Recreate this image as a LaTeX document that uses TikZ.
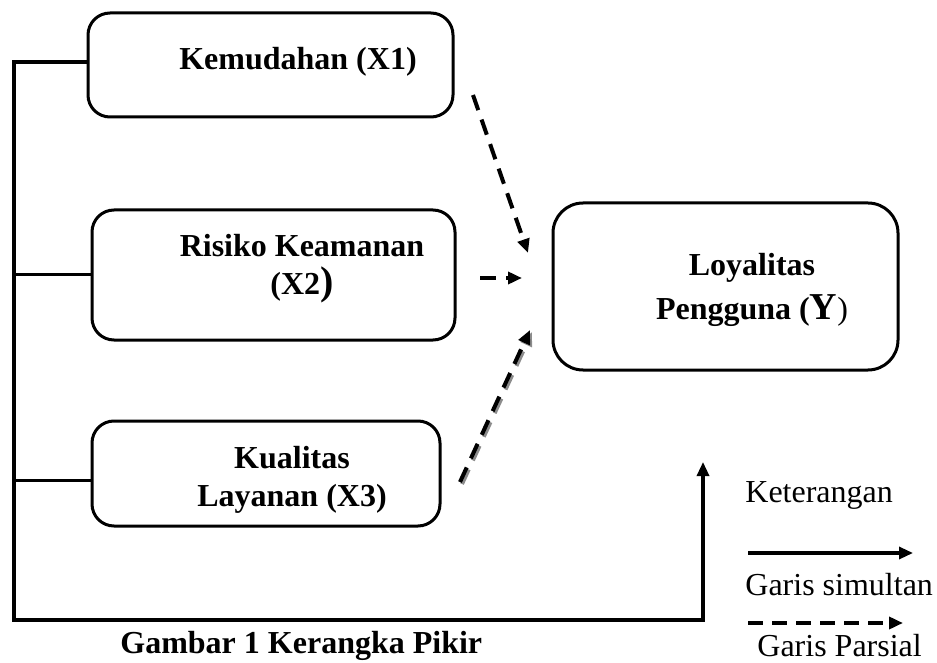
\documentclass[tikz,border=0pt]{standalone}
\usepackage{fontspec}
\setmainfont{Liberation Serif}
\usetikzlibrary{arrows.meta}
\definecolor{KPshade}{HTML}{8C8C8C}
\tikzset{kpbox/.style={draw,line width=1.5pt,rounded corners=11pt,inner sep=0pt},
 kptext/.style={font=\fontsize{16}{19}\selectfont\bfseries,align=center,inner sep=0pt},
 kpnote/.style={font=\fontsize{16}{19}\selectfont,inner sep=0pt,anchor=west},
 kpline/.style={line width=1.5pt},
 kparr/.style={-{Triangle[length=7pt,width=6pt]},line width=1.6pt},
 kpdash/.style={-{Triangle[length=7pt,width=6pt]},line width=2pt,dash pattern=on 8pt off 5pt}}
\begin{document}
\begin{tikzpicture}[x=0.5pt,y=-0.5pt]
\useasboundingbox (0,0) rectangle (937,663);
\node[kpbox,minimum width=182.5pt,minimum height=52pt] (x1) at (270.5,65) {};
\node[kpbox,minimum width=181.5pt,minimum height=65pt] (x2) at (273.5,275) {};
\node[kpbox,minimum width=174pt,minimum height=52.5pt] (x3) at (266,473.5) {};
\node[kpbox,rounded corners=15pt,minimum width=172.5pt,minimum height=83.5pt] (y) at (725.5,286.5) {};
\node[kptext] (x1t) at (298,62) {Kemudahan (X1)};
\node[kptext] (x2t) at (302,268.5) {Risiko Keamanan\\(X2{\fontsize{20}{20}\selectfont)}};
\node[kptext] (x3t) at (292,479.5) {Kualitas\\Layanan (X3)};
\node[kptext,font=\fontsize{16}{22}\selectfont\bfseries] (yt) at (752,290) {Loyalitas\\Pengguna ({\fontsize{19}{19}\selectfont Y}{\mdseries)}};
\node[kptext,anchor=west] (cap) at (120,646) {Gambar 1 Kerangka Pikir};
\node[kpnote] (ket) at (745,495) {Keterangan};
\node[kpnote] (sim) at (745,585) {Garis simultan};
\node[kpnote] (par) at (757,646) {Garis Parsial};
\coordinate (bl) at (14,620);
\coordinate (br) at (703,620);
\coordinate (ytip) at (703,462);
\draw[kparr] ([yshift=1.5pt]x1.west) -| (bl) -- (br) -- (ytip);
\draw[kpline] (x2.west) -- (x2.west -| bl);
\draw[kpline] ([yshift=-3.25pt]x3.west) -- ([yshift=-3.25pt]x3.west -| bl);
\coordinate (d1s) at (473,95);
\coordinate (d1e) at (528,253);
\coordinate (d2s) at (480,278);
\coordinate (d2e) at (522,278);
\coordinate (d3s) at (460,482);
\coordinate (d3e) at (530,330);
\draw[kpdash] (d1s) -- (d1e);
\draw[kpdash] (d2s) -- (d2e);
\draw[kpdash,draw=KPshade] ([shift={(1pt,-1pt)}]d3s) -- ([shift={(1pt,-1pt)}]d3e);
\draw[kpdash] (d3s) -- (d3e);
\coordinate (ls1) at (748,553);
\coordinate (le1) at (913,553);
\coordinate (ls2) at (748,623);
\coordinate (le2) at (903,623);
\draw[kparr] (ls1) -- (le1);
\draw[kpdash,dash pattern=on 7.5pt off 4.5pt] (ls2) -- (le2);
\end{tikzpicture}
\end{document}
